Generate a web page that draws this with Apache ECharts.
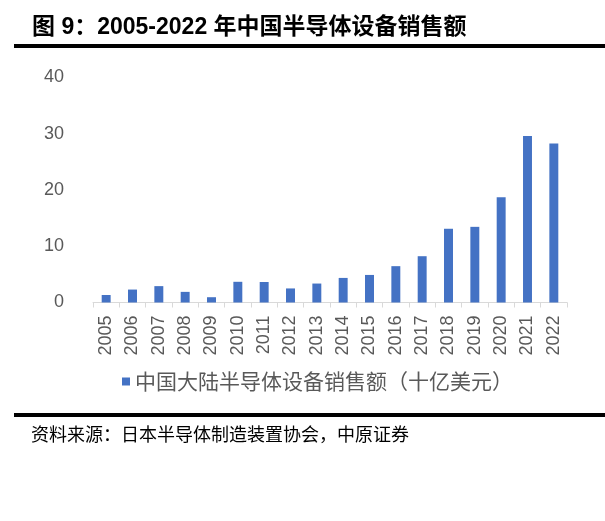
<!DOCTYPE html>
<html>
<head>
<meta charset="utf-8">
<script src="https://cdn.jsdelivr.net/npm/echarts@6/dist/echarts.min.js"></script>
<style>
html,body{margin:0;padding:0;background:#fff;}
#c{width:605px;height:521px;}
</style>
</head>
<body>
<div id="c"></div>
<script>
const years = ['2005','2006','2007','2008','2009','2010','2011','2012','2013','2014','2015','2016','2017','2018','2019','2020','2021','2022'];
const sales = [1.33, 2.3, 2.91, 1.89, 0.94, 3.68, 3.65, 2.5, 3.37, 4.37, 4.9, 6.46, 8.23, 13.11, 13.45, 18.72, 29.62, 28.27];
const yTicks = [0, 10, 20, 30, 40];
const seriesName = '中国大陆半导体设备销售额（十亿美元）';
const titleText = '图 9：2005-2022 年中国半导体设备销售额';
const sourceText = '资料来源：日本半导体制造装置协会，中原证券';

const chart = echarts.init(document.getElementById('c'), null, {renderer: 'canvas'});
chart.setOption({
  animation: false,
  backgroundColor: '#fff',
  grid: {left: 93, right: 38, top: 77.5, bottom: 218.5},
  legend: {
    data: [seriesName],
    left: 117,
    top: 366,
    icon: 'rect',
    itemWidth: 8,
    itemHeight: 8,
    itemGap: 10,
    textStyle: {fontSize: 21, color: '#595959', fontFamily: 'Noto Sans CJK SC'}
  },
  xAxis: {
    type: 'category',
    data: years,
    boundaryGap: true,
    axisLine: {lineStyle: {color: '#D9D9D9', width: 1}},
    axisTick: {show: true, length: 5, lineStyle: {color: '#D9D9D9'}},
    axisLabel: {rotate: 90, margin: 13, fontSize: 18, color: '#595959', fontFamily: 'Liberation Sans', interval: 0}
  },
  yAxis: {
    type: 'value',
    min: yTicks[0],
    max: yTicks[yTicks.length - 1],
    interval: 10,
    axisLine: {show: false},
    axisTick: {show: false},
    splitLine: {show: false},
    axisLabel: {margin: 29, fontSize: 18, color: '#595959', fontFamily: 'Liberation Sans'}
  },
  series: [{
    name: seriesName,
    type: 'bar',
    data: sales,
    barWidth: '34%',
    itemStyle: {color: '#4472C4'}
  }],
  graphic: [
    {type: 'text', left: 32, top: 16, style: {text: titleText, font: 'bold 23px "Liberation Sans", "Noto Sans CJK SC"', fill: '#000'}},
    {type: 'rect', shape: {x: 14, y: 44, width: 591, height: 4}, style: {fill: '#000'}},
    {type: 'rect', shape: {x: 14, y: 413, width: 591, height: 4}, style: {fill: '#000'}},
    {type: 'text', left: 31, top: 425, style: {text: sourceText, font: '18px "Noto Sans CJK SC"', fill: '#000'}}
  ]
});
</script>
</body>
</html>
